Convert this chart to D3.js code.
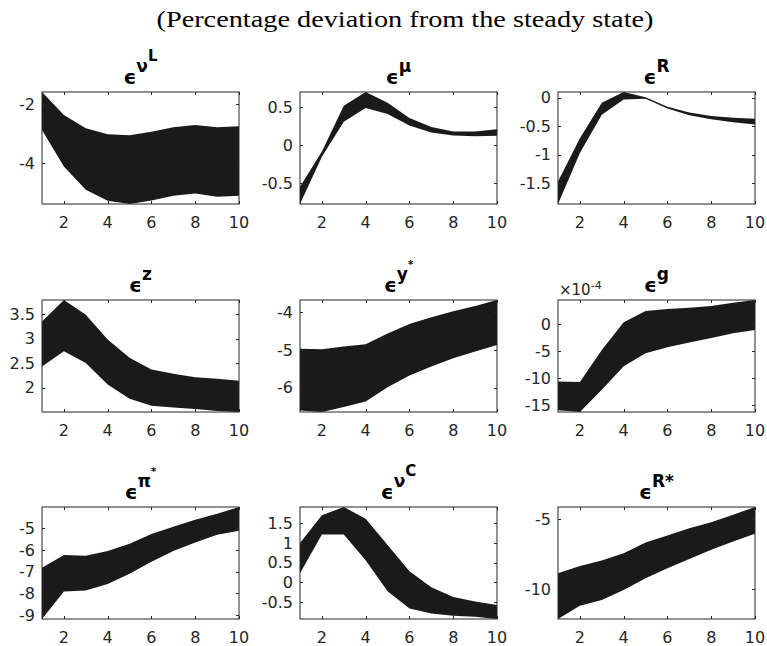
<!DOCTYPE html>
<html>
<head>
<meta charset="utf-8">
<style>
    body { margin: 0; background: #fff; }
    .tick-label { font-family: "DejaVu Sans"; font-size: 16px; fill: #262626; }
    .ptitle { font-family: "DejaVu Sans"; font-weight: bold; fill: #000; }
    .suptitle { font-family: "Liberation Serif"; font-size: 23px; fill: #000; }
    .band { fill: #1a1a1a; }
    .frame { fill: none; stroke: #262626; stroke-width: 1; }
    .tick { stroke: #262626; stroke-width: 1; }
</style>
</head>
<body>
<div id="chart"></div>
<script src="https://cdnjs.cloudflare.com/ajax/libs/d3/7.8.5/d3.min.js"></script>
<script>
    // horizon (quarters) and x ticks shared by every panel
    var horizon = [1, 2, 3, 4, 5, 6, 7, 8, 9, 10];
    var xTicks = [2, 4, 6, 8, 10];

    // bands: upper and lower edges
    var nuLUpper = [-1.58, -2.36, -2.81, -3.01, -3.05, -2.93, -2.78, -2.70, -2.78, -2.74];
    var nuLLower = [-2.87, -4.11, -4.90, -5.27, -5.38, -5.26, -5.10, -5.02, -5.13, -5.10];
    var nuLTicks = [-4, -2];

    var muUpper = [-0.545, -0.08, 0.52, 0.70, 0.56, 0.36, 0.24, 0.18, 0.18, 0.21];
    var muLower = [-0.77, -0.15, 0.31, 0.49, 0.41, 0.26, 0.17, 0.13, 0.12, 0.125];
    var muTicks = [-0.5, 0, 0.5];

    var rUpper = [-1.47, -0.71, -0.09, 0.10, 0.01, -0.16, -0.26, -0.32, -0.35, -0.37];
    var rLower = [-1.865, -0.97, -0.30, -0.03, -0.02, -0.19, -0.31, -0.38, -0.43, -0.47];
    var rTicks = [-1.5, -1, -0.5, 0];

    var zUpper = [3.35, 3.79, 3.49, 2.98, 2.61, 2.37, 2.28, 2.21, 2.18, 2.14];
    var zLower = [2.43, 2.74, 2.50, 2.06, 1.77, 1.63, 1.59, 1.56, 1.52, 1.50];
    var zTicks = [2, 2.5, 3, 3.5];

    var yStarUpper = [-4.97, -4.98, -4.91, -4.85, -4.56, -4.31, -4.13, -3.97, -3.83, -3.67];
    var yStarLower = [-6.61, -6.65, -6.52, -6.37, -5.99, -5.68, -5.44, -5.22, -5.04, -4.87];
    var yStarTicks = [-6, -5, -4];

    // g panel is in units of 1e-4
    var gUpper = [-10.6, -10.7, -4.8, 0.3, 2.4, 2.76, 3.0, 3.3, 3.9, 4.41];
    var gLower = [-15.9, -16.2, -12.1, -7.8, -5.4, -4.3, -3.4, -2.6, -1.7, -1.1];
    var gTicks = [-15, -10, -5, 0];

    var piStarUpper = [-6.83, -6.24, -6.27, -6.05, -5.72, -5.27, -4.93, -4.61, -4.33, -4.02];
    var piStarLower = [-9.19, -7.92, -7.88, -7.57, -7.10, -6.55, -6.05, -5.66, -5.30, -5.12];
    var piStarTicks = [-9, -8, -7, -6, -5];

    var nuCUpper = [1.0, 1.71, 1.92, 1.62, 0.95, 0.28, -0.13, -0.38, -0.49, -0.58];
    var nuCLower = [0.23, 1.22, 1.22, 0.56, -0.23, -0.67, -0.80, -0.86, -0.88, -0.94];
    var nuCTicks = [-0.5, 0, 0.5, 1, 1.5];

    var rStarUpper = [-8.88, -8.36, -7.98, -7.45, -6.69, -6.19, -5.67, -5.24, -4.71, -4.16];
    var rStarLower = [-12.14, -11.19, -10.79, -10.07, -9.24, -8.52, -7.86, -7.21, -6.62, -6.07];
    var rStarTicks = [-10, -5];

    var EPS = '\u03F5';
    var panels = [
        {title: [[EPS, 0], ['\u03BD', 1], ['L', 2]], upper: nuLUpper, lower: nuLLower, ticks: nuLTicks},
        {title: [[EPS, 0], ['\u03BC', 1]], upper: muUpper, lower: muLower, ticks: muTicks},
        {title: [[EPS, 0], ['R', 1]], upper: rUpper, lower: rLower, ticks: rTicks},
        {title: [[EPS, 0], ['z', 1]], upper: zUpper, lower: zLower, ticks: zTicks},
        {title: [[EPS, 0], ['y', 1], ['*', 3]], upper: yStarUpper, lower: yStarLower, ticks: yStarTicks},
        {title: [[EPS, 0], ['g', 1]], upper: gUpper, lower: gLower, ticks: gTicks, exponent: '-4'},
        {title: [[EPS, 0], ['\u03C0', 1], ['*', 3]], upper: piStarUpper, lower: piStarLower, ticks: piStarTicks},
        {title: [[EPS, 0], ['\u03BD', 1], ['C', 2]], upper: nuCUpper, lower: nuCLower, ticks: nuCTicks},
        {title: [[EPS, 0], ['R*', 1]], upper: rStarUpper, lower: rStarLower, ticks: rStarTicks}
    ];

    var width = 767, height = 646;
    var colLeft = [42, 300, 558], plotW = 197;
    var rowTop = [92, 300, 507], plotH = 112;
    var tickLen = 3;

    // font size and vertical shift for each title level
    var levelSize = [20, 17, 15, 10];
    var levelRise = [0, 12, 23, 24];

    var svg = d3.select('#chart').append('svg')
            .attr('width', width)
            .attr('height', height);

    svg.append('text')
            .attr('class', 'suptitle')
            .attr('x', 405)
            .attr('y', 27)
            .attr('text-anchor', 'middle')
            .attr('textLength', 497)
            .attr('lengthAdjust', 'spacingAndGlyphs')
            .text('(Percentage deviation from the steady state)');

    panels.forEach(function (p, i) {
        var x0 = colLeft[i % 3], y0 = rowTop[Math.floor(i / 3)];
        var g = svg.append('g').attr('transform', 'translate(' + x0 + ',' + y0 + ')');

        var x = d3.scaleLinear().domain([1, 10]).range([0, plotW]);
        var y = d3.scaleLinear().domain(d3.extent(p.upper.concat(p.lower))).range([plotH, 0]);

        var area = d3.area()
                .x(function (d, k) { return x(horizon[k]); })
                .y0(function (d, k) { return y(p.lower[k]); })
                .y1(function (d) { return y(d); });

        g.append('path')
                .attr('class', 'band')
                .attr('d', area(p.upper));

        g.append('rect')
                .attr('class', 'frame')
                .attr('width', plotW)
                .attr('height', plotH);

        // inward ticks on all four sides
        xTicks.forEach(function (t) {
            var xx = Math.round(x(t)) + 0.5;
            g.append('path').attr('class', 'tick').attr('d', 'M' + xx + ',' + plotH + 'v-' + tickLen);
            g.append('path').attr('class', 'tick').attr('d', 'M' + xx + ',0v' + tickLen);
            g.append('text')
                    .attr('class', 'tick-label')
                    .attr('x', x(t))
                    .attr('y', plotH + 24)
                    .attr('text-anchor', 'middle')
                    .text(String(t));
        });
        p.ticks.forEach(function (t) {
            var yy = Math.round(y(t)) + 0.5;
            g.append('path').attr('class', 'tick').attr('d', 'M0,' + yy + 'h' + tickLen);
            g.append('path').attr('class', 'tick').attr('d', 'M' + plotW + ',' + yy + 'h-' + tickLen);
            g.append('text')
                    .attr('class', 'tick-label')
                    .attr('x', -7)
                    .attr('y', y(t))
                    .attr('dy', '0.36em')
                    .attr('text-anchor', 'end')
                    .text(String(t));
        });

        if (p.exponent) {
            var ex = g.append('text')
                    .attr('class', 'tick-label')
                    .attr('x', 1)
                    .attr('y', -5)
                    .style('font-size', '15px');
            ex.append('tspan').text('\u00D710');
            ex.append('tspan').attr('dy', -6).style('font-size', '11px').text(p.exponent);
        }

        // title with stacked superscripts
        var title = g.append('text')
                .attr('class', 'ptitle')
                .attr('x', plotW / 2)
                .attr('y', -8)
                .attr('text-anchor', 'middle');
        var prevRise = 0;
        p.title.forEach(function (part) {
            var lvl = part[1];
            title.append('tspan')
                    .attr('dy', -(levelRise[lvl] - prevRise))
                    .style('font-size', levelSize[lvl] + 'px')
                    .text(part[0]);
            prevRise = levelRise[lvl];
        });
    });
</script>
</body>
</html>
